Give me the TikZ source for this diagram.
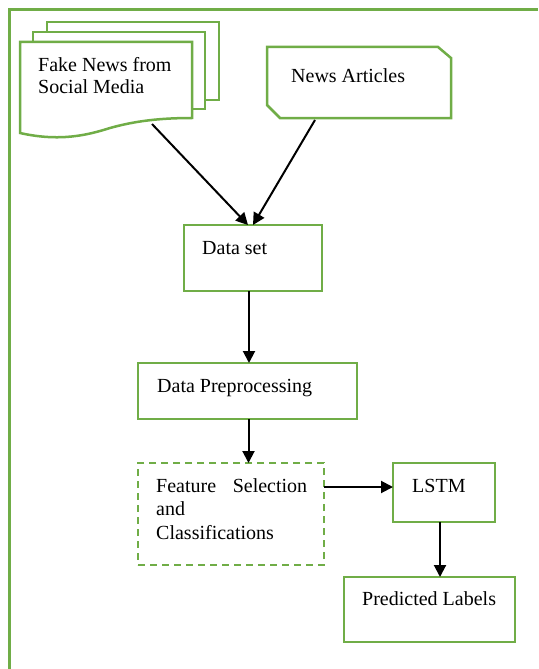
\documentclass[tikz,border=0pt]{standalone}
\usepackage{fontspec}
\setmainfont{Liberation Serif}
\usetikzlibrary{arrows.meta,calc}
\definecolor{grn}{HTML}{70AD47}
\tikzset{
  box/.style={draw=grn, line width=2.5pt, fill=white, rectangle, inner sep=0pt, outer sep=0pt, anchor=north west},
  dbox/.style={box, dash pattern=on 7pt off 5pt},
  txt/.style={anchor=base west, inner sep=0pt, font=\fontsize{20}{23}\selectfont},
  arr/.style={draw=black, line width=2pt, -{Triangle[length=12pt,width=12pt]}},
  frame/.style={draw=grn, line width=2.5pt}
}
\begin{document}
\begin{tikzpicture}[x=1pt,y=-1pt]
\useasboundingbox (0,0) rectangle (538,669);
% outer frame
\coordinate (f1) at (9.5,669);
\coordinate (f2) at (9.5,9.5);
\coordinate (f3) at (538,9.5);
\draw[frame] (f1) -- (f2) -- (f3);
% multi-document
\node[box, minimum width=172, minimum height=78] (d3) at (47,22) {};
\node[box, minimum width=172, minimum height=77] (d2) at (33,32) {};
\node[minimum width=172, minimum height=91, inner sep=0pt, outer sep=0pt, anchor=north west] (d1) at (20,42) {};
\draw[draw=grn, line width=2.5pt, fill=white]
  (20,133) -- (20,42) -- (192,42) -- (192,118)
  .. controls (160,118) and (135,121) .. (110,128)
  .. controls (88,135) and (60,142) .. (20,133) -- cycle;
\node[txt] (t1) at (38,71) {Fake News from};
\node[txt] (t1b) at (38,93) {Social Media};
% news articles
\node[minimum width=184, minimum height=71, inner sep=0pt, outer sep=0pt, anchor=north west] (na) at (267,47) {};
\draw[draw=grn, line width=2.5pt, fill=white]
  (na.north west) -- ($(na.north east)+(-13,0)$) -- ($(na.north east)+(0,11)$)
  -- (na.south east) -- ($(na.south west)+(13,0)$) -- ($(na.south west)+(0,-13)$) -- cycle;
\node[txt] (t2) at (291,82) {News Articles};
% other boxes
\node[box, minimum width=138, minimum height=66] (ds) at (184,225) {};
\node[txt] (t3) at (202,254) {Data set};
\node[box, minimum width=219, minimum height=56] (pp) at (138,363) {};
\node[txt] (t4) at (157,392) {Data Preprocessing};
\node[dbox, minimum width=186, minimum height=102] (fs) at (138,463) {};
\node[txt] (t5) at (156,492) {\makebox[151pt][l]{Feature\hfill Selection}};
\node[txt] (t6) at (156,515) {and};
\node[txt] (t7) at (156,539) {Classifications};
\node[box, minimum width=102, minimum height=59] (ls) at (393,463) {};
\node[txt] (t8) at (412,492) {LSTM};
\node[box, minimum width=171, minimum height=65] (pl) at (344,577) {};
\node[txt] (t9) at (362,605) {Predicted Labels};
% connectors
\coordinate (a1) at (152,124);
\coordinate (a2) at (315,120);
\draw[arr] (a1) -- ([xshift=-5]ds.north);
\draw[arr] (a2) -- ([xshift=0]ds.north);
\draw[arr] ([xshift=-4]ds.south) -- ([xshift=-4]ds.south |- pp.north);
\draw[arr] ([xshift=1]pp.south) -- ([xshift=1]pp.south |- fs.north);
\draw[arr] ([yshift=5.5]ls.west -| fs.east) -- ([yshift=5.5]ls.west);
\draw[arr] ([xshift=-4]ls.south) -- ([xshift=-4]ls.south |- pl.north);
\end{tikzpicture}
\end{document}
